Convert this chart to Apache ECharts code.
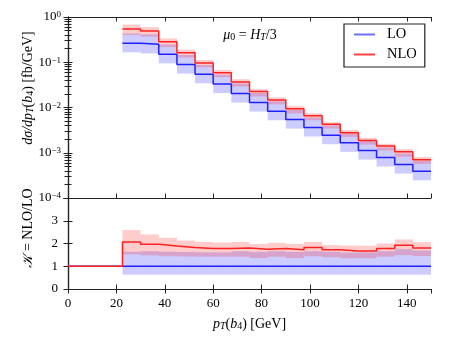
<!DOCTYPE html>
<html>
<head>
<meta charset="utf-8">
<script src="https://cdn.jsdelivr.net/npm/echarts@6/dist/echarts.min.js"></script>
<style>
html, body { margin: 0; padding: 0; background: #fff; }
#main { width: 454px; height: 341px; }
</style>
</head>
<body>
<div id="main"></div>
<script>
// bin edges of the histogram (GeV)
const binEdges = [22.5, 30, 37.5, 45, 52.5, 60, 67.5, 75, 82.5, 90, 97.5, 105, 112.5, 120, 127.5, 135, 142.5, 150];
// LO central values [fb/GeV]
const loVals = [0.263, 0.249, 0.150, 0.089, 0.0543, 0.0330, 0.0204, 0.0129, 0.00828, 0.00543, 0.00363, 0.00245, 0.00166, 0.00112, 0.00079, 0.00055, 0.00039];
// K = NLO/LO
const kVals = [2.07, 1.97, 1.89, 1.82, 1.78, 1.78, 1.80, 1.75, 1.78, 1.73, 1.82, 1.73, 1.67, 1.67, 1.78, 1.92, 1.80];
// scale bands, relative to LO
const loBandLo = [0.63, 0.63, 0.63, 0.63, 0.63, 0.63, 0.63, 0.63, 0.63, 0.63, 0.63, 0.63, 0.63, 0.63, 0.63, 0.63, 0.63];
const loBandHi = [1.64, 1.66, 1.64, 1.63, 1.61, 1.61, 1.66, 1.63, 1.66, 1.63, 1.66, 1.64, 1.60, 1.61, 1.66, 1.75, 1.69];
const nloBandLo = [1.52, 1.48, 1.44, 1.43, 1.42, 1.42, 1.42, 1.36, 1.42, 1.36, 1.44, 1.40, 1.35, 1.35, 1.42, 1.49, 1.45];
const nloBandHi = [2.59, 2.40, 2.25, 2.13, 2.07, 2.04, 2.07, 1.98, 2.03, 1.98, 2.07, 1.93, 1.91, 1.90, 2.00, 2.18, 2.06];
const xTicks = [0, 20, 40, 60, 80, 100, 120, 140];
const ratioTicks = [0, 1, 2, 3];

const F = '"Liberation Serif", "DejaVu Serif", serif';
const AX = '#222';

const nBins = loVals.length;
const last = binEdges[nBins];

function stepData(vals) {
  const d = vals.map((v, i) => [binEdges[i], v]);
  d.push([last, vals[nBins - 1]]);
  return d;
}
function bandData(lo, hi, scale) {
  return lo.map((l, i) => [binEdges[i], binEdges[i + 1], l * (scale ? scale[i] : 1), hi[i] * (scale ? scale[i] : 1)]);
}
const nloVals = loVals.map((v, i) => v * kVals[i]);

function bandItem(params, api) {
  const p0 = api.coord([api.value(0), api.value(3)]);
  const p1 = api.coord([api.value(1), api.value(2)]);
  const cs = params.coordSys;
  const r = echarts.graphic.clipRectByRect(
    { x: p0[0], y: p0[1], width: p1[0] - p0[0], height: p1[1] - p0[1] },
    { x: cs.x, y: cs.y, width: cs.width, height: cs.height });
  return r && { type: 'rect', shape: r, style: api.style() };
}

const axisLine = { show: true, lineStyle: { color: AX, width: 1.2 } };
const tickIn = { show: true, inside: true, length: 4.5, lineStyle: { color: AX, width: 1 } };
const minorIn = { show: true, splitNumber: 9, length: 3.5, lineStyle: { color: AX, width: 1 } };
function xAx(grid, pos, labels) {
  return {
    type: 'value', gridIndex: grid, position: pos, min: 0, max: 150, interval: 20,
    axisLine: axisLine, axisTick: tickIn, splitLine: { show: false },
    axisLabel: { show: labels, showMaxLabel: false, margin: 8, color: '#000', fontFamily: F, fontSize: 13,
      formatter: v => xTicks.indexOf(v) >= 0 ? String(v) : '' }
  };
}
const logLabel = {
  margin: 7, color: '#000',
  formatter: v => { const e = Math.round(Math.log10(v)); return '{b|10}{e|' + (e < 0 ? '\u2212' + (-e) : e) + '}'; },
  rich: {
    b: { fontFamily: F, fontSize: 13, color: '#000' },
    e: { fontFamily: F, fontSize: 9, color: '#000', verticalAlign: 'top' }
  }
};

const sub = { fontFamily: F, fontSize: 10, color: '#000', verticalAlign: 'bottom', lineHeight: 12 };
const rich = {
  i: { fontFamily: F, fontStyle: 'italic', fontSize: 14, color: '#000' },
  n: { fontFamily: F, fontSize: 14, color: '#000' },
  si: Object.assign({}, sub, { fontStyle: 'italic' }),
  s: sub
};

const chart = echarts.init(document.getElementById('main'));
chart.setOption({
  animation: false,
  backgroundColor: '#fff',
  grid: [
    { left: 68, top: 17, width: 363, height: 181 },
    { left: 68, top: 198, width: 363, height: 91 }
  ],
  xAxis: [xAx(0, 'bottom', false), xAx(0, 'top', false), xAx(1, 'bottom', true), xAx(1, 'top', false)],
  yAxis: [
    { type: 'log', gridIndex: 0, position: 'left', min: 1e-4, max: 1, logBase: 10,
      axisLine: axisLine, axisTick: tickIn, minorTick: minorIn, splitLine: { show: false }, axisLabel: logLabel },
    { type: 'log', gridIndex: 0, position: 'right', min: 1e-4, max: 1, logBase: 10,
      axisLine: axisLine, axisTick: tickIn, minorTick: minorIn, splitLine: { show: false }, axisLabel: { show: false } },
    { type: 'value', gridIndex: 1, position: 'left', min: 0, max: 4, interval: 1,
      axisLine: axisLine, axisTick: tickIn, splitLine: { show: false },
      axisLabel: { margin: 10, color: '#000', fontFamily: F, fontSize: 13,
        formatter: v => ratioTicks.indexOf(v) >= 0 ? String(v) : '' } },
    { type: 'value', gridIndex: 1, position: 'right', min: 0, max: 4, interval: 1,
      axisLine: axisLine, axisTick: tickIn, splitLine: { show: false }, axisLabel: { show: false } }
  ],
  legend: {
    data: [
      { name: 'LO', icon: 'rect', itemStyle: { color: '#7070ff' } },
      { name: 'NLO', icon: 'rect', itemStyle: { color: '#ff4040' } }
    ],
    orient: 'vertical', left: 344, top: 24, itemWidth: 21, itemHeight: 2, itemGap: 5,
    padding: [3, 8, 5, 10], borderColor: AX, borderWidth: 1.2, backgroundColor: '#fff',
    textStyle: { fontFamily: F, fontSize: 14.5, color: '#000', lineHeight: 14, padding: [0, 0, 0, 7] }
  },
  graphic: [
    { type: 'text', x: 250, y: 35, style: { text: '{i|\u03bc}{s|0}{n| = }{i|H}{si|T}{n|/3}', rich: rich,
      textAlign: 'center', textVerticalAlign: 'middle', align: 'center', verticalAlign: 'middle' } },
    { type: 'text', x: 249.5, y: 324, style: { text: '{i|p}{si|T}{n|(}{i|b}{s|4}{n|) [GeV]}', rich: rich,
      textAlign: 'center', textVerticalAlign: 'middle', align: 'center', verticalAlign: 'middle' } },
    { type: 'text', x: 28, y: 88, rotation: Math.PI / 2, style: { text: '{i|d\u03c3/dp}{si|T}{n|(}{i|b}{s|4}{n|) [fb/GeV]}', rich: rich,
      textAlign: 'center', textVerticalAlign: 'middle', align: 'center', verticalAlign: 'middle' } },
    { type: 'text', x: 28, y: 228, rotation: Math.PI / 2, style: { text: '{i|\u{1D4A6}}{n| = NLO/LO}', rich: rich,
      textAlign: 'center', textVerticalAlign: 'middle', align: 'center', verticalAlign: 'middle' } }
  ],
  series: [
    { type: 'custom', name: 'LO band', xAxisIndex: 0, yAxisIndex: 0, renderItem: bandItem,
      encode: { x: [0, 1], y: [2, 3] }, itemStyle: { color: 'rgba(0,0,255,0.2)' },
      data: bandData(loBandLo, loBandHi, loVals) },
    { type: 'custom', name: 'NLO band', xAxisIndex: 0, yAxisIndex: 0, renderItem: bandItem,
      encode: { x: [0, 1], y: [2, 3] }, itemStyle: { color: 'rgba(255,0,0,0.2)' },
      data: bandData(nloBandLo, nloBandHi, loVals) },
    { type: 'line', name: 'LO', xAxisIndex: 0, yAxisIndex: 0, step: 'end', showSymbol: false,
      lineStyle: { color: '#2020ff', width: 1.5 }, itemStyle: { color: '#2020ff' }, data: stepData(loVals) },
    { type: 'line', name: 'NLO', xAxisIndex: 0, yAxisIndex: 0, step: 'end', showSymbol: false,
      lineStyle: { color: '#ff2020', width: 1.5 }, itemStyle: { color: '#ff2020' }, data: stepData(nloVals) },
    { type: 'custom', name: 'LO band r', xAxisIndex: 2, yAxisIndex: 2, renderItem: bandItem,
      encode: { x: [0, 1], y: [2, 3] }, itemStyle: { color: 'rgba(0,0,255,0.2)' },
      data: bandData(loBandLo, loBandHi) },
    { type: 'custom', name: 'NLO band r', xAxisIndex: 2, yAxisIndex: 2, renderItem: bandItem,
      encode: { x: [0, 1], y: [2, 3] }, itemStyle: { color: 'rgba(255,0,0,0.2)' },
      data: bandData(nloBandLo, nloBandHi) },
    { type: 'line', name: 'LO ratio', xAxisIndex: 2, yAxisIndex: 2, showSymbol: false,
      lineStyle: { color: '#2020ff', width: 1.5 }, data: [[0, 1], [last, 1]] },
    { type: 'line', name: 'NLO ratio', xAxisIndex: 2, yAxisIndex: 2, step: 'end', showSymbol: false,
      lineStyle: { color: '#ff2020', width: 1.5 }, data: [[0, 1]].concat(stepData(kVals)) }
  ]
});
</script>
</body>
</html>
